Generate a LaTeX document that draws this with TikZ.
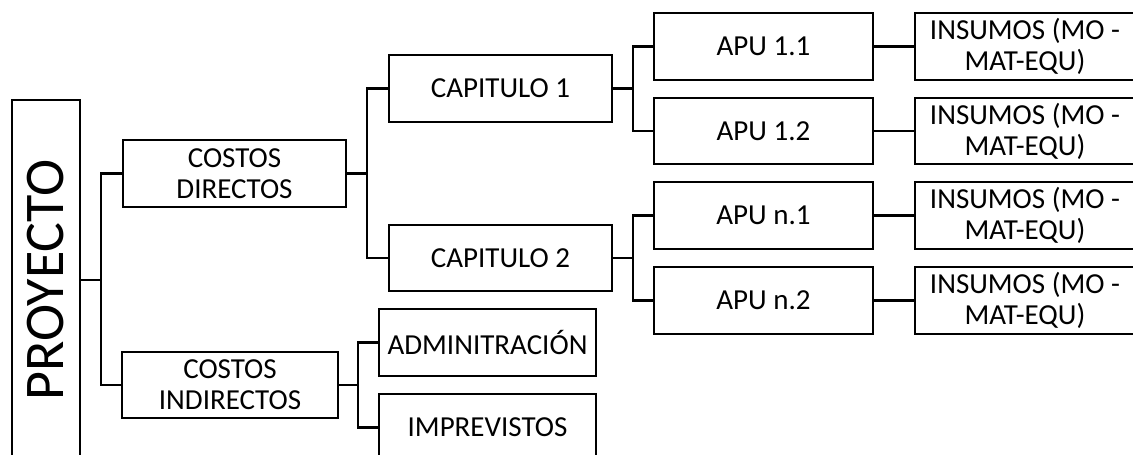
\documentclass[tikz,border=0pt]{standalone}
\usepackage{fontspec}
\usepackage{graphicx}
\setmainfont{Carlito}
\begin{document}
\begin{tikzpicture}[x=1pt,y=-1pt,
  box/.style={draw, line width=2.6pt, align=center, inner sep=0pt, font=\fontsize{29}{31}\selectfont},
  link/.style={line width=2.6pt}]
\useasboundingbox (0,0) rectangle (1133,455);
\clip (0,0) rectangle (1133,455);
\node[box, minimum width=68pt, minimum height=360pt, font=\fontsize{56}{60}\selectfont] (proy) at (46,280) {\rotatebox{90}{PROYECTO}};
\node[box, minimum width=223pt, minimum height=67pt] (cd) at (234.5,173.5) {COSTOS\\DIRECTOS};
\node[box, minimum width=216pt, minimum height=66pt] (ci) at (230,385) {COSTOS\\INDIRECTOS};
\node[box, minimum width=223pt, minimum height=67pt] (cap1) at (500.5,88.5) {CAPITULO 1};
\node[box, minimum width=223pt, minimum height=66pt] (cap2) at (500.5,258) {CAPITULO 2};
\node[box, minimum width=217pt, minimum height=67pt] (adm) at (487.5,342.5) {ADMINITRACIÓN};
\node[box, minimum width=217pt, minimum height=67pt] (imp) at (487.5,427.5) {IMPREVISTOS};
\node[box, minimum width=219pt, minimum height=67pt] (a11) at (763.5,46.5) {APU 1.1};
\node[box, minimum width=219pt, minimum height=66pt] (a12) at (763.5,131) {APU 1.2};
\node[box, minimum width=219pt, minimum height=67pt] (an1) at (763.5,215.5) {APU n.1};
\node[box, minimum width=219pt, minimum height=67pt] (an2) at (763.5,300.5) {APU n.2};
\node[box, minimum width=220pt, minimum height=67pt] (i11) at (1025,46.5) {INSUMOS (MO -\\MAT-EQU)};
\node[box, minimum width=220pt, minimum height=66pt] (i12) at (1025,131) {INSUMOS (MO -\\MAT-EQU)};
\node[box, minimum width=220pt, minimum height=67pt] (in1) at (1025,215.5) {INSUMOS (MO -\\MAT-EQU)};
\node[box, minimum width=220pt, minimum height=67pt] (in2) at (1025,300.5) {INSUMOS (MO -\\MAT-EQU)};
\coordinate (j1) at (101,280);
\coordinate (j2) at (367,173.5);
\coordinate (j3) at (358,385);
\coordinate (j4) at (633,88.5);
\coordinate (j5) at (633,258);
\draw[link] (proy.east |- j1) -- (j1);
\draw[link] (cd.west) -| (j1) |- (ci.west);
\draw[link] (cd.east) -- (j2);
\draw[link] (cap1.west) -| (j2) |- (cap2.west);
\draw[link] (ci.east) -- (j3);
\draw[link] (adm.west) -| (j3) |- (imp.west);
\draw[link] (cap1.east) -- (j4);
\draw[link] (a11.west) -| (j4) |- (a12.west);
\draw[link] (cap2.east) -- (j5);
\draw[link] (an1.west) -| (j5) |- (an2.west);
\draw[link] (a11) -- (i11);
\draw[link] (a12) -- (i12);
\draw[link] (an1) -- (in1);
\draw[link] (an2) -- (in2);
\end{tikzpicture}
\end{document}
